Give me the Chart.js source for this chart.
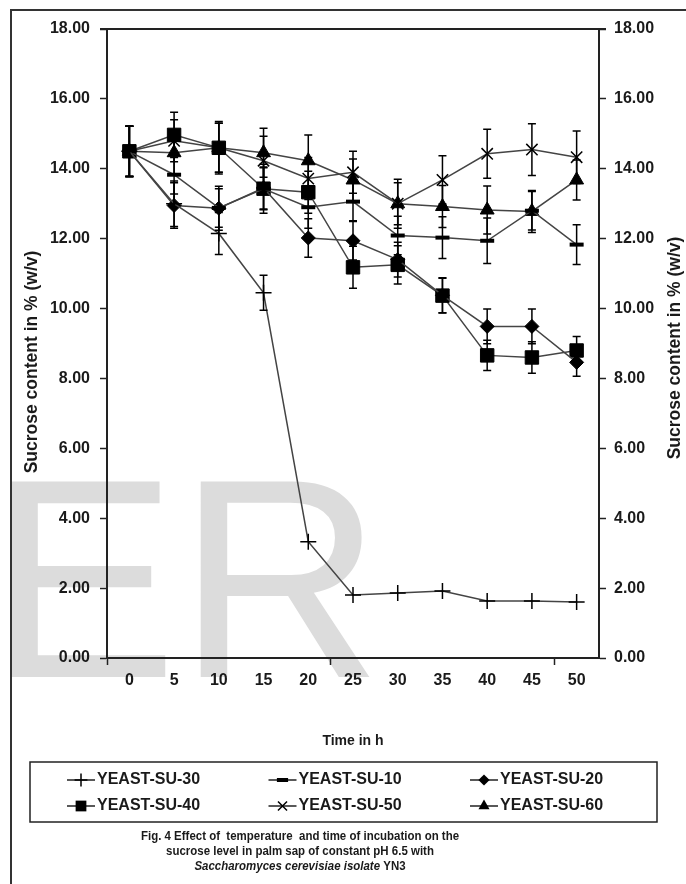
<!DOCTYPE html>
<html>
<head>
<meta charset="utf-8">
<title>Sucrose level in palm sap</title>
<script src="https://cdn.jsdelivr.net/npm/chart.js@4.4.1/dist/chart.umd.min.js"></script>
<style>
  html, body { margin: 0; padding: 0; background: #fff; }
  canvas { display: block; }
</style>
</head>
<body>
<canvas id="sucroseChart" width="686" height="884"></canvas>
<script>
// time points (h) and axis ticks
const timeH = [0, 5, 10, 15, 20, 25, 30, 35, 40, 45, 50];
const yTicks = [0, 2, 4, 6, 8, 10, 12, 14, 16, 18];
const xTickMarks = [-2.5, 22.5, 47.5];

const seriesNames = ["YEAST-SU-30", "YEAST-SU-10", "YEAST-SU-20", "YEAST-SU-40", "YEAST-SU-50", "YEAST-SU-60"];

// sucrose content in % (w/v)
const su30 = [14.5, 13.0, 12.15, 10.45, 3.33, 1.8, 1.86, 1.92, 1.63, 1.63, 1.6];
const su10 = [14.5, 13.83, 12.88, 13.43, 12.9, 13.06, 12.09, 12.03, 11.94, 12.8, 11.83];
const su20 = [14.5, 12.95, 12.87, 13.45, 12.02, 11.94, 11.4, 10.38, 9.49, 9.49, 8.46];
const su40 = [14.5, 14.97, 14.6, 13.43, 13.33, 11.18, 11.25, 10.37, 8.66, 8.6, 8.8];
const su50 = [14.5, 14.8, 14.6, 14.23, 13.72, 13.9, 13.0, 13.68, 14.43, 14.55, 14.33];
const su60 = [14.5, 14.46, 14.6, 14.46, 14.23, 13.68, 13.0, 12.92, 12.82, 12.78, 13.68];

// error bars (+/-)
const err30 = [0.72, 0.65, 0.6, 0.5, 0, 0, 0, 0, 0, 0, 0];
const err10 = [0.72, 0.55, 0.55, 0.6, 0.6, 0.55, 0.55, 0.6, 0.65, 0.55, 0.57];
const err20 = [0.72, 0.65, 0.63, 0.6, 0.55, 0.55, 0.5, 0.5, 0.5, 0.5, 0.4];
const err40 = [0.72, 0.65, 0.7, 0.7, 0.6, 0.6, 0.55, 0.5, 0.43, 0.45, 0.4];
const err50 = [0.72, 0.6, 0.75, 0.7, 0.6, 0.6, 0.7, 0.69, 0.7, 0.74, 0.75];
const err60 = [0.72, 0.6, 0.7, 0.7, 0.74, 0.6, 0.6, 0.6, 0.69, 0.6, 0.57];

const seriesValues = [su30, su10, su20, su40, su50, su60];
const seriesErrors = [err30, err10, err20, err40, err50, err60];

const FONT = "'Liberation Sans', Arial, sans-serif";
const INK = "#1a1a1a";
const markerStyle = ["cross", "line", "rectRot", "rect", "crossRot", "triangle"];
const markerRadius = [8, 7, 7, 9.5, 8, 8];
const markerBorder = [1.5, 4, 1, 1, 1.5, 1];

Chart.defaults.font.family = FONT;
Chart.defaults.color = INK;

// marker for the legend, same shapes as chart.js point styles
function drawMarker(ctx, style, x, y, r, bw) {
  ctx.beginPath();
  ctx.lineWidth = bw;
  if (style === "cross") {
    ctx.moveTo(x - r, y); ctx.lineTo(x + r, y);
    ctx.moveTo(x, y - r); ctx.lineTo(x, y + r);
    ctx.stroke();
  } else if (style === "crossRot") {
    const d = r * Math.SQRT1_2;
    ctx.moveTo(x - d, y - d); ctx.lineTo(x + d, y + d);
    ctx.moveTo(x - d, y + d); ctx.lineTo(x + d, y - d);
    ctx.stroke();
  } else if (style === "line") {
    ctx.moveTo(x - r, y); ctx.lineTo(x + r, y);
    ctx.stroke();
  } else if (style === "rect") {
    const s = r * Math.SQRT1_2;
    ctx.rect(x - s, y - s, 2 * s, 2 * s);
    ctx.fill();
  } else if (style === "rectRot") {
    ctx.moveTo(x, y - r); ctx.lineTo(x + r, y); ctx.lineTo(x, y + r); ctx.lineTo(x - r, y);
    ctx.closePath();
    ctx.fill();
  } else if (style === "triangle") {
    ctx.moveTo(x, y - r);
    ctx.lineTo(x + r * 0.866, y + r * 0.5);
    ctx.lineTo(x - r * 0.866, y + r * 0.5);
    ctx.closePath();
    ctx.fill();
  }
}

// condensed caption line (the original uses a narrow face)
function narrowText(ctx, parts, cx, y, squeeze) {
  let total = 0;
  parts.forEach(p => { ctx.font = p.font; total += ctx.measureText(p.text).width; });
  ctx.save();
  ctx.translate(cx, y);
  ctx.scale(squeeze, 1);
  ctx.textAlign = "left";
  let x = -total / 2;
  parts.forEach(p => {
    ctx.font = p.font;
    ctx.fillText(p.text, x, 0);
    x += ctx.measureText(p.text).width;
  });
  ctx.restore();
}

const figurePlugin = {
  id: "figure",
  beforeDraw(chart) {
    const ctx = chart.ctx;
    ctx.save();
    ctx.fillStyle = "#fff";
    ctx.fillRect(0, 0, chart.width, chart.height);
    // watermark
    ctx.fillStyle = "#dcdcdc";
    ctx.font = "284px " + FONT;
    ctx.fillText("ER", -12, 677);
    // outer frame
    ctx.strokeStyle = "#333";
    ctx.lineWidth = 2;
    ctx.beginPath();
    ctx.moveTo(11, chart.height);
    ctx.lineTo(11, 10);
    ctx.lineTo(chart.width, 10);
    ctx.stroke();
    ctx.restore();
  },
  afterDatasetsDraw(chart) {
    const ctx = chart.ctx;
    const yScale = chart.scales.y;
    ctx.save();
    ctx.strokeStyle = "#000";
    ctx.lineWidth = 1.5;
    chart.data.datasets.forEach((ds, d) => {
      const meta = chart.getDatasetMeta(d);
      meta.data.forEach((pt, i) => {
        const e = ds.errorBars[i];
        if (!e) return;
        const v = ds.data[i].y;
        const yTop = yScale.getPixelForValue(v + e);
        const yBot = yScale.getPixelForValue(v - e);
        ctx.beginPath();
        ctx.moveTo(pt.x, yTop); ctx.lineTo(pt.x, yBot);
        ctx.moveTo(pt.x - 4, yTop); ctx.lineTo(pt.x + 4, yTop);
        ctx.moveTo(pt.x - 4, yBot); ctx.lineTo(pt.x + 4, yBot);
        ctx.stroke();
      });
    });
    ctx.restore();
  },
  afterDraw(chart) {
    const ctx = chart.ctx;
    const area = chart.chartArea;
    ctx.save();

    // top edge of plot box
    ctx.strokeStyle = "#222";
    ctx.lineWidth = 2;
    ctx.beginPath();
    ctx.moveTo(area.left - 7, area.top);
    ctx.lineTo(area.right + 7, area.top);
    ctx.stroke();

    // y titles, both read bottom to top
    ctx.fillStyle = INK;
    ctx.font = "bold 17.5px " + FONT;
    ctx.textAlign = "center";
    ctx.textBaseline = "middle";
    const yTitle = "Sucrose content in % (w/v)";
    ctx.save();
    ctx.translate(32, 362);
    ctx.rotate(-Math.PI / 2);
    ctx.fillText(yTitle, 0, 0);
    ctx.restore();
    ctx.save();
    ctx.translate(675, 348);
    ctx.rotate(-Math.PI / 2);
    ctx.fillText(yTitle, 0, 0);
    ctx.restore();

    // legend box
    const boxL = 30, boxR = 657;
    const boxT = chart.scales.x.bottom + 9;
    const boxB = boxT + 60;
    ctx.strokeStyle = "#222";
    ctx.lineWidth = 1.5;
    ctx.strokeRect(boxL, boxT, boxR - boxL, boxB - boxT);

    ctx.font = "bold 16px " + FONT;
    ctx.textAlign = "left";
    chart.data.datasets.forEach((ds, k) => {
      const col = k % 3, row = Math.floor(k / 3);
      const tx = boxL + 67 + col * 201.5;
      const ty = boxT + 18 + row * 26;
      const sx = tx - 30, cx = tx - 16;
      ctx.strokeStyle = "#222";
      ctx.fillStyle = "#000";
      ctx.lineWidth = 1.5;
      ctx.beginPath();
      ctx.moveTo(sx, ty); ctx.lineTo(tx - 2, ty);
      ctx.stroke();
      ctx.strokeStyle = "#000";
      drawMarker(ctx, ds.pointStyle, cx, ty, ds.pointRadius * 0.8, ds.pointBorderWidth);
      ctx.fillStyle = INK;
      ctx.fillText(ds.label, tx, ty);
    });

    // caption
    const capX = 300;
    const capFont = "bold 13.5px " + FONT;
    const capItalic = "italic bold 13.5px " + FONT;
    ctx.fillStyle = INK;
    narrowText(ctx, [{ text: "Fig. 4 Effect of  temperature  and time of incubation on the", font: capFont }], capX, boxB + 14, 0.85);
    narrowText(ctx, [{ text: "sucrose level in palm sap of constant pH 6.5 with", font: capFont }], capX, boxB + 29, 0.85);
    narrowText(ctx, [
      { text: "Saccharomyces cerevisiae isolate", font: capItalic },
      { text: " YN3", font: capFont }
    ], capX, boxB + 44, 0.85);

    ctx.restore();
  }
};

const datasets = seriesNames.map((name, k) => ({
  label: name,
  data: timeH.map((t, i) => ({ x: t, y: seriesValues[k][i] })),
  errorBars: seriesErrors[k],
  borderColor: "#444",
  borderWidth: 1.5,
  pointStyle: markerStyle[k],
  pointRadius: markerRadius[k],
  pointBackgroundColor: "#000",
  pointBorderColor: "#000",
  pointBorderWidth: markerBorder[k],
  tension: 0,
  fill: false
}));

const yTickOpts = {
  font: { size: 16, weight: "bold" },
  color: INK,
  callback: (v) => v.toFixed(2)
};

new Chart(document.getElementById("sucroseChart"), {
  type: "line",
  data: { datasets: datasets },
  options: {
    responsive: false,
    animation: false,
    devicePixelRatio: 1,
    layout: { padding: { left: 11, right: 0, top: 29, bottom: 131 } },
    plugins: {
      legend: { display: false },
      tooltip: { enabled: false }
    },
    scales: {
      x: {
        type: "linear",
        min: -2.5,
        max: 52.5,
        afterBuildTicks: (s) => {
          s.ticks = timeH.concat(xTickMarks).sort((a, b) => a - b).map(v => ({ value: v }));
        },
        afterFit: (s) => { s.height = 95; },
        ticks: {
          autoSkip: false,
          maxRotation: 0,
          padding: 6,
          font: { size: 16, weight: "bold" },
          color: INK,
          callback: (v) => timeH.includes(v) ? String(v) : ""
        },
        grid: {
          drawOnChartArea: false,
          tickLength: 7,
          tickWidth: 1.5,
          tickColor: (c) => (c.tick && xTickMarks.includes(c.tick.value)) ? "#222" : "rgba(0,0,0,0)"
        },
        border: { color: "#222", width: 2 },
        title: {
          display: true,
          text: "Time in h",
          color: INK,
          font: { size: 14, weight: "bold" },
          padding: { top: 0, bottom: 3 }
        }
      },
      y: {
        position: "left",
        min: 0,
        max: 18,
        afterBuildTicks: (s) => { s.ticks = yTicks.map(v => ({ value: v })); },
        afterFit: (s) => { s.width = 96; },
        ticks: Object.assign({ padding: 10 }, yTickOpts),
        grid: { drawOnChartArea: false, tickLength: 7, tickWidth: 1.5, tickColor: "#222" },
        border: { color: "#222", width: 2 }
      },
      y2: {
        position: "right",
        min: 0,
        max: 18,
        afterBuildTicks: (s) => { s.ticks = yTicks.map(v => ({ value: v })); },
        afterFit: (s) => { s.width = 87; },
        ticks: Object.assign({ padding: 8 }, yTickOpts),
        grid: { drawOnChartArea: false, tickLength: 7, tickWidth: 1.5, tickColor: "#222" },
        border: { color: "#222", width: 2 }
      }
    }
  },
  plugins: [figurePlugin]
});
</script>
</body>
</html>
